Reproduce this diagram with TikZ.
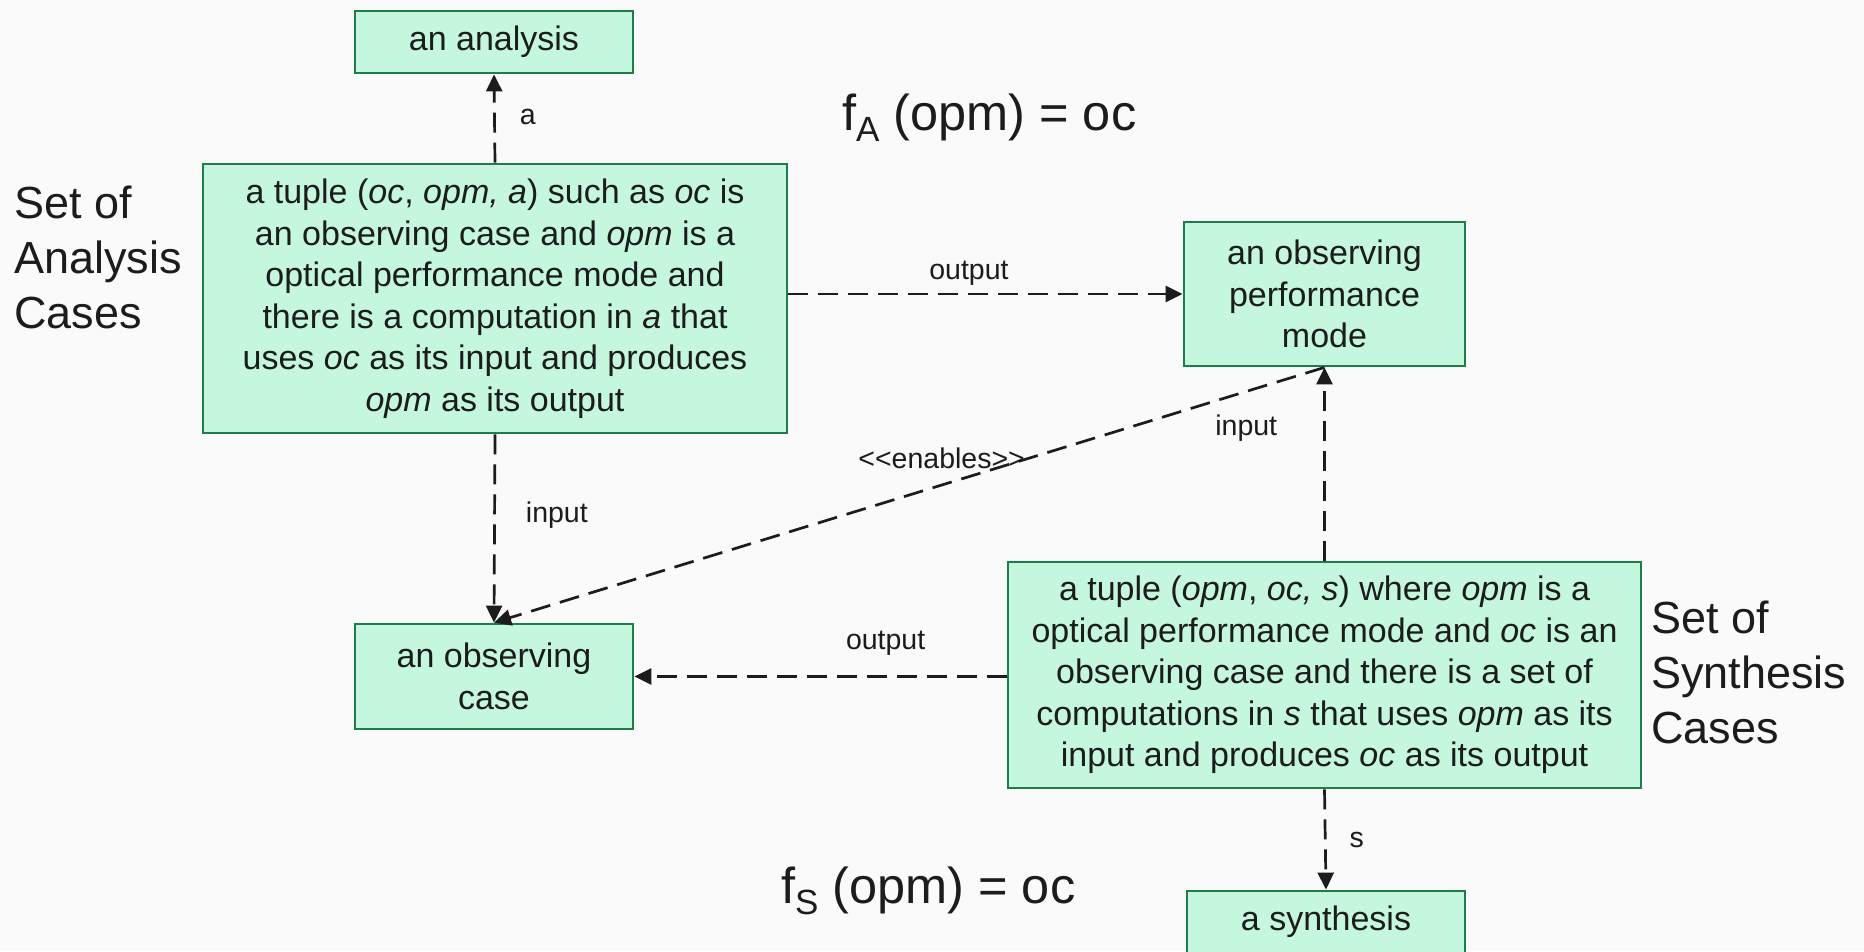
\documentclass[tikz,border=0pt]{standalone}
\usepackage{fontspec}
\setmainfont{Liberation Sans}
\usetikzlibrary{arrows.meta}
\definecolor{boxfill}{HTML}{C4F7DE}
\definecolor{boxline}{HTML}{1E7E48}
\definecolor{ink}{HTML}{1C1C1C}
\definecolor{paper}{HTML}{FAFAFA}

\begin{document}
\begin{tikzpicture}[x=1pt, y=-1pt,
  every node/.style={text=ink},
  box/.style={draw=boxline, fill=boxfill, line width=2.8pt, align=center,
    inner sep=0pt, font=\fontsize{34}{41.5}\selectfont},
  link/.style={draw=ink, line width=2.7pt, dash pattern=on 20pt off 10pt,
    -{Triangle[length=17pt,width=16pt]}},
  lbl/.style={font=\fontsize{28.5}{34}\selectfont, inner sep=0pt},
  caption/.style={font=\fontsize{45}{55}\selectfont, align=left, inner sep=0pt},
  formula/.style={font=\fontsize{50.5}{58}\selectfont, inner sep=0pt},
]
% canvas
\fill[paper] (0,0) rectangle (1864,951);
\useasboundingbox (0,0) rectangle (1864,951);

% boxes
\node[box, minimum width=278pt, minimum height=62pt] (analysis) at (494,42) {an analysis};
\node[box, minimum width=584pt, minimum height=269pt] (tupleA) at (495,298.5)
  {a tuple (\textit{oc}, \textit{opm, a}) such as \textit{oc} is\\
   an observing case and \textit{opm} is a\\
   optical performance mode and\\
   there is a computation in \textit{a} that\\
   uses \textit{oc} as its input and produces\\
   \textit{opm} as its output};
\node[box, minimum width=281pt, minimum height=144pt] (opm) at (1324.5,294)
  {an observing\\performance\\mode};
\node[box, minimum width=278pt, minimum height=105pt] (oc) at (494,676.5)
  {an observing\\case};
\node[box, minimum width=633pt, minimum height=226pt] (tupleS) at (1324.5,675)
  {a tuple (\textit{opm}, \textit{oc, s}) where \textit{opm} is a\\
   optical performance mode and \textit{oc} is an\\
   observing case and there is a set of\\
   computations in \textit{s} that uses \textit{opm} as its\\
   input and produces \textit{oc} as its output};
\node[box, minimum width=278pt, minimum height=62pt] (synth) at (1326,922) {a synthesis};

% side captions and formulas
\node[caption, anchor=north west] (capA) at (14,186) {Set of\\Analysis\\Cases};
\node[caption, anchor=north west] (capS) at (1651,601) {Set of\\Synthesis\\Cases};
\node[formula, anchor=base west] (fA) at (842,130)
  {f\raisebox{-0.22em}{\fontsize{35}{35}\selectfont A} (opm) = oc};
\node[formula, anchor=base west] (fS) at (781,903)
  {f\raisebox{-0.22em}{\fontsize{35}{35}\selectfont S} (opm) = oc};

% connectors
\draw[link] (tupleA.north) -- (analysis.south)
  node[lbl, pos=0.52, anchor=west, xshift=24pt] {a};
\draw[link] (tupleA.south) -- (oc.north)
  node[lbl, pos=0.43, anchor=west, xshift=30pt] {input};
\draw[link] (tupleA.east |- opm.west) -- (opm.west)
  node[lbl, pos=0.458, yshift=21pt] {output};
\draw[link] (opm.south) -- (oc.north)
  node[lbl, pos=0.461, yshift=27pt] {<{}<enables>{}>};
\draw[link] (tupleS.north) -- (opm.south)
  node[lbl, pos=0.687, anchor=east, xshift=-46pt] {input};
\draw[link] (tupleS.west |- oc.east) -- (oc.east)
  node[lbl, pos=0.325, yshift=33pt] {output};
\draw[link] (tupleS.south) -- (synth.north)
  node[lbl, pos=0.5, anchor=west, xshift=23pt] {s};
\end{tikzpicture}
\end{document}
